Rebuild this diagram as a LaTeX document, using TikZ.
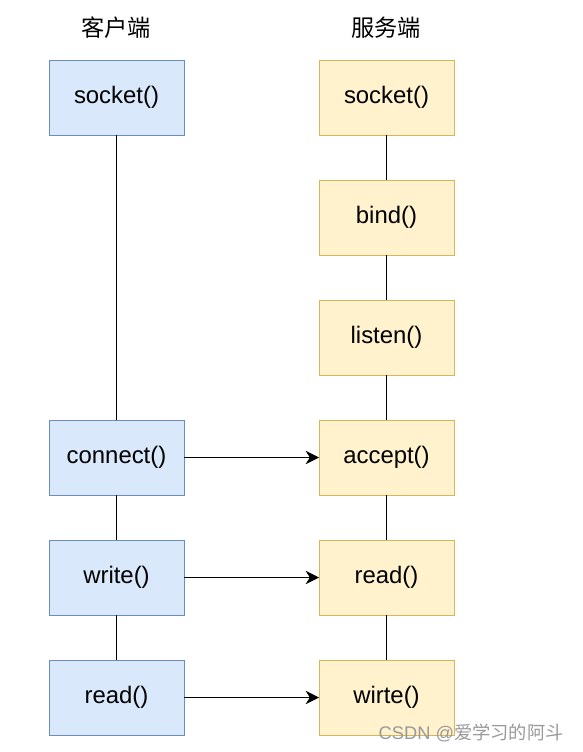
\documentclass[tikz,border=0pt]{standalone}
\usepackage{fontspec}
\setmainfont{Liberation Sans}
\newfontfamily\cjk{Noto Sans CJK SC}
\usetikzlibrary{arrows.meta,positioning}
\definecolor{clientfill}{HTML}{DAE8FC}
\definecolor{clientline}{HTML}{6C8EBF}
\definecolor{serverfill}{HTML}{FFF2CC}
\definecolor{serverline}{HTML}{D6B656}

\begin{document}
\begin{tikzpicture}[
    node distance=1.125cm,
    client/.style={rectangle, draw=clientline, fill=clientfill, line width=0.7pt, outer sep=0pt, minimum width=3.375cm, minimum height=1.875cm, align=center, font=\fontsize{17}{20}\selectfont},
    server/.style={rectangle, draw=serverline, fill=serverfill, line width=0.7pt, outer sep=0pt, minimum width=3.375cm, minimum height=1.875cm, align=center, font=\fontsize{17}{20}\selectfont},
    title/.style={font=\cjk\fontsize{16.5}{19}\selectfont},
    link/.style={draw=black, line width=0.7pt},
    arrow/.style={-{Stealth[length=9.5pt, width=9.5pt, inset=3pt]}, line width=0.7pt}
]
\useasboundingbox (0,0) rectangle (14.55,-18.8);

% Server side
\node[server] (ssocket) at (9.6625,-2.4375) {socket()};
\node[server, below=of ssocket] (bind) {bind()};
\node[server, below=of bind] (listen) {listen()};
\node[server, below=of listen] (accept) {accept()};
\node[server, below=of accept] (sread) {read()};
\node[server, below=of sread] (swrite) {wirte()};

% Client side
\node[client] (csocket) at (2.9125,-2.4375) {socket()};
\node[client, left=3.375cm of accept] (connect) {connect()};
\node[client, below=of connect] (cwrite) {write()};
\node[client, below=of cwrite] (cread) {read()};

% Titles
\node[title] (ctitle) at (2.9,-0.7) {客户端};
\node[title] (stitle) at (9.65,-0.7) {服务端};

% Lines
\draw[link] (csocket) -- (connect);
\draw[link] (connect) -- (cwrite);
\draw[link] (cwrite) -- (cread);
\draw[link] (ssocket) -- (bind);
\draw[link] (bind) -- (listen);
\draw[link] (listen) -- (accept);
\draw[link] (accept) -- (sread);
\draw[link] (sread) -- (swrite);

% Arrows
\draw[arrow] (connect) -- (accept);
\draw[arrow] (cwrite) -- (sread);
\draw[arrow] (cread) -- (swrite);

% Watermark
\node[text=black!40, font=\fontsize{13}{15}\selectfont] (mark) at (11.78,-18.33) {CSDN @{\cjk 爱学习的阿斗}};

\end{tikzpicture}
\end{document}
